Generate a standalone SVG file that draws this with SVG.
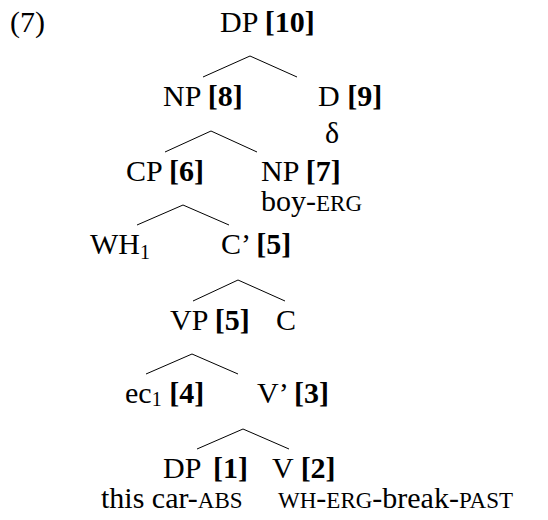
<svg xmlns="http://www.w3.org/2000/svg" width="548" height="520" viewBox="0 0 548 520">
<style>
text{font-family:"Liberation Serif","Times New Roman",serif;font-size:30px;fill:#000}
.b{font-weight:bold}
.sc{font-size:23px}
.sub{font-size:20px}
.e{fill:none;stroke:#000;stroke-width:1}
</style>
<rect width="548" height="520" fill="#fff"/>
<text x="10" y="32">(7)</text>
<g id="connectors">
<polyline class="e" points="203,77 250,56 297,77"/>
<polyline class="e" points="165,152 211,131 257,152"/>
<polyline class="e" points="137,225 183,205 229,225"/>
<polyline class="e" points="193,301 238,280 285,301"/>
<polyline class="e" points="146,374 192,354 238,374"/>
<polyline class="e" points="197,449 243,429 289,449"/>
</g>
<g id="dp10"><text x="220" y="32">DP <tspan class="b">[10]</tspan></text></g>
<g id="np8"><text x="163" y="106">NP <tspan class="b">[8]</tspan></text></g>
<g id="d9"><text x="318" y="106">D <tspan class="b">[9]</tspan></text><text x="325" y="143">δ</text></g>
<g id="cp6"><text x="126" y="181">CP <tspan class="b">[6]</tspan></text></g>
<g id="np7"><text x="261" y="181">NP <tspan class="b">[7]</tspan></text><text x="261" y="211">boy-<tspan class="sc">ERG</tspan></text></g>
<g id="wh1"><text x="90" y="254">WH<tspan class="sub" dy="5">1</tspan></text></g>
<g id="cbar5"><text x="221" y="254">C’ <tspan class="b">[5]</tspan></text></g>
<g id="vp5"><text x="170" y="330">VP <tspan class="b">[5]</tspan></text></g>
<g id="c"><text x="276" y="330">C</text></g>
<g id="ec4"><text x="125" y="403">ec<tspan class="sub" dy="3">1</tspan><tspan dy="-3"> </tspan><tspan class="b">[4]</tspan></text></g>
<g id="vbar3"><text x="257" y="403">V’ <tspan class="b">[3]</tspan></text></g>
<g id="dp1"><text x="163" y="478">DP</text><text x="213" y="478" class="b">[1]</text><text x="101" y="508">this car-<tspan class="sc">ABS</tspan></text></g>
<g id="v2"><text x="272" y="478">V <tspan class="b">[2]</tspan></text><text x="278" y="508"><tspan class="sc">WH</tspan>-<tspan class="sc">ERG</tspan>-break-<tspan class="sc">PAST</tspan></text></g>
</svg>
